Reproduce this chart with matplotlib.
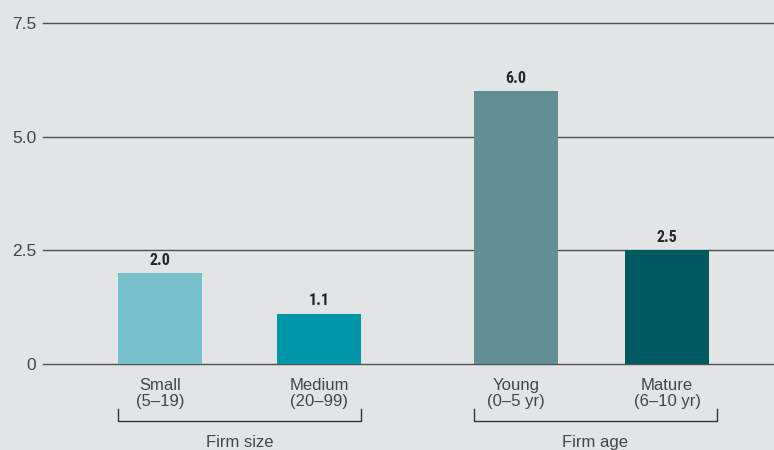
import matplotlib.pyplot as plt
from matplotlib import transforms

# values
categories = ["Small\n(5\u201319)", "Medium\n(20\u201399)", "Young\n(0\u20135 yr)", "Mature\n(6\u201310 yr)"]
values = [2.0, 1.1, 6.0, 2.5]
value_labels = ["2.0", "1.1", "6.0", "2.5"]
groups = ["Firm size", "Firm age"]
yticks = [0, 2.5, 5.0, 7.5]
ytick_labels = ["0", "2.5", "5.0", "7.5"]

# layout in axis-width pixels (x axis runs 0..731)
xpos = [117, 276, 473, 624]
bar_w = 84
group_span = [(75, 318), (431, 674)]
colors = ["#78c0cc", "#0098a8", "#628f96", "#005a62"]
bg = "#e1e5e6"
txt = "#454545"
plt.rcParams["font.family"] = ["Liberation Sans", "DejaVu Sans"]

W, H = 774, 450
fig = plt.figure(figsize=(W / 100, H / 100), dpi=100, facecolor=bg)
ax = fig.add_axes([43 / W, 86 / H, 1 - 43 / W, (364 - 23) / H])
ax.set_facecolor(bg)

ax.bar(xpos, values, width=bar_w, color=colors, zorder=3)
ax.set_xlim(0, 731)
ax.set_ylim(0, 7.5)

for y in yticks:
    ax.axhline(y, color="#505050", lw=1.0, zorder=2, clip_on=False)

for s in ax.spines.values():
    s.set_visible(False)
ax.set_xticks([])
ax.set_yticks(yticks)
ax.set_yticklabels(ytick_labels, fontsize=12.5, color=txt)
ax.tick_params(axis="y", length=0, pad=5)

for x, v, lab in zip(xpos, values, value_labels):
    ax.annotate(lab, (x, v), xytext=(0, 4), textcoords="offset points",
                ha="center", va="bottom", fontsize=11.5, fontweight="bold",
                family=["Roboto Condensed", "DejaVu Sans"], color="#262626")

tr = transforms.blended_transform_factory(ax.transData, fig.transFigure)


def fy(px):
    return 1 - px / H


for x, c in zip(xpos, categories):
    ax.text(x, fy(378), c, transform=tr, ha="center", va="top", fontsize=12,
            color=txt, linespacing=1.05)

for (x0, x1), g in zip(group_span, groups):
    ax.plot([x0, x0, x1, x1], [fy(409), fy(421), fy(421), fy(409)],
            transform=tr, color="#333333", lw=1.0, clip_on=False)
    ax.text((x0 + x1) / 2, fy(435), g, transform=tr, ha="center", va="top",
            fontsize=12, color=txt)

fig.savefig("out.png", dpi=100, facecolor=bg)
